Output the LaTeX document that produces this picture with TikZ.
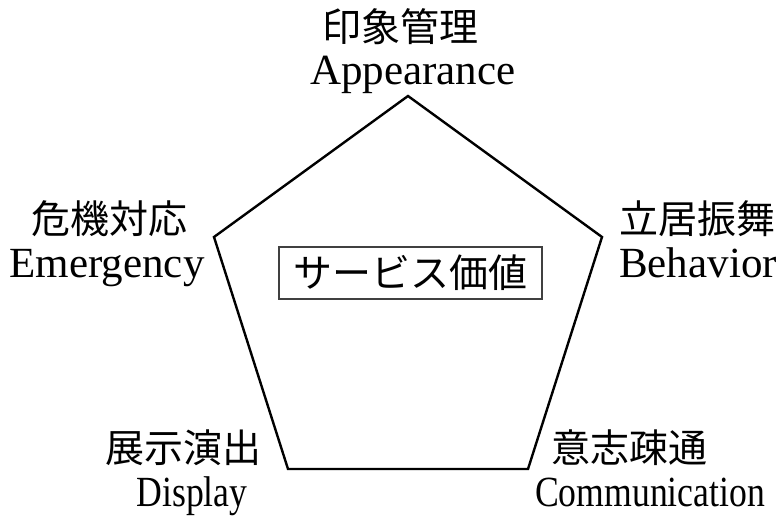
\documentclass[tikz,border=0pt]{standalone}
\usepackage{graphicx}
\usepackage{fontspec}
\setmainfont{Liberation Serif}
\newfontfamily\cjk{Noto Sans CJK JP}
\newcommand{\narrowtext}[1]{\scalebox{0.83}[1]{#1}}
\tikzset{
  jlabel/.style={anchor=base, inner sep=0pt, font=\cjk\fontsize{39}{40}\selectfont},
  elabel/.style={anchor=base, inner sep=0pt, font=\fontsize{43}{44}\selectfont},
  valuebox/.style={draw=black!75, line width=1.2pt, inner sep=0pt, minimum width=263pt, minimum height=52pt, font=\cjk\fontsize{39}{40}\selectfont},
  pent/.style={line width=2.4pt, line join=miter}
}
\begin{document}
\begin{tikzpicture}[x=1pt,y=-1pt]
\useasboundingbox (0,0) rectangle (781,524);
% pentagon vertices
\coordinate (vt) at (408,96);
\coordinate (vr) at (602,237);
\coordinate (vbr) at (528,469);
\coordinate (vbl) at (288,469);
\coordinate (vl) at (214,237);
\draw[pent] (vt) -- (vr) -- (vbr) -- (vbl) -- (vl) -- cycle;
% centre box
\node[valuebox] (val) at (410.5,273) {サービス価値};
% labels
\node[jlabel] (tj) at (400,42) {印象管理};
\node[elabel] (te) at (413,85) {Appearance};
\node[jlabel] (lj) at (109,233) {危機対応};
\node[elabel] (le) at (107,277) {Emergency};
\node[jlabel] (rj) at (697,233) {立居振舞};
\node[elabel] (re) at (698,277) {Behavior};
\node[jlabel] (blj) at (183,462) {展示演出};
\node[elabel] (ble) at (192,506) {\narrowtext{Display}};
\node[jlabel] (brj) at (629,462) {意志疎通};
\node[elabel] (bre) at (650,506) {\narrowtext{Communication}};
\end{tikzpicture}
\end{document}
